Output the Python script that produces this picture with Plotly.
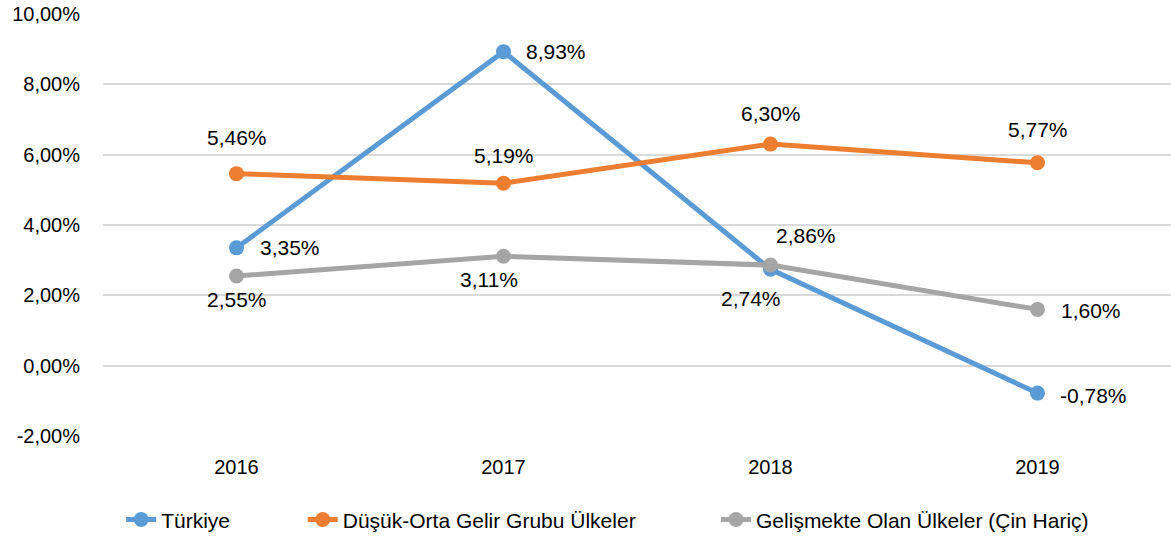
import plotly.graph_objects as go

years = ["2016", "2017", "2018", "2019"]
turkiye = [3.35, 8.93, 2.74, -0.78]
dusuk_orta = [5.46, 5.19, 6.30, 5.77]
gelismekte = [2.55, 3.11, 2.86, 1.60]
names = ["Türkiye", "Düşük-Orta Gelir Grubu Ülkeler", "Gelişmekte Olan Ülkeler (Çin Hariç)"]
colors = ["#5B9BD5", "#ED7D31", "#A5A5A5"]

# label offsets (xanchor, xshift, yshift) per point
offsets = [
    [("left", 21, 0), ("left", 20, 0), ("center", -20, -29), ("left", 20, -2)],
    [("center", 0, 36), ("center", 0, 28), ("center", 0, 31), ("center", 0, 33)],
    [("center", 0, -24), ("center", -15, -23), ("left", 3, 30), ("left", 21, -1)],
]

def fmt(v):
    return f"{v:.2f}".replace(".", ",") + "%"

FONT = "Liberation Sans, Arial, sans-serif"
fig = go.Figure()
series = [turkiye, dusuk_orta, gelismekte]
legend_ids = ["legend", "legend2", "legend3"]
legend_x = [0.017, 0.187, 0.574]
for s, name, col, offs, lid in zip(series, names, colors, offsets, legend_ids):
    fig.add_trace(go.Scatter(
        x=years, y=s, name=name, mode="lines+markers",
        line=dict(color=col, width=5),
        marker=dict(color=col, size=15),
        legend=lid,
    ))
    for i, (yv, (xa, xs, ys)) in enumerate(zip(s, offs)):
        fig.add_annotation(
            x=i, y=yv, xref="x", yref="y", text=fmt(yv), showarrow=False,
            xanchor=xa, yanchor="middle", xshift=xs, yshift=ys,
            font=dict(size=21, color="#000000", family=FONT),
        )

legend_common = dict(orientation="h", xanchor="left", y=-0.15, yanchor="top",
                     font=dict(size=21), bgcolor="rgba(0,0,0,0)")
ticks = [-2, 0, 2, 4, 6, 8, 10]
fig.update_layout(
    width=1171, height=543,
    margin=dict(l=103, r=0, t=14, b=107),
    paper_bgcolor="white", plot_bgcolor="white",
    font=dict(family=FONT, size=20, color="#000000"),
    showlegend=True,
    legend=dict(x=legend_x[0], **legend_common),
    legend2=dict(x=legend_x[1], **legend_common),
    legend3=dict(x=legend_x[2], **legend_common),
    xaxis=dict(type="category", range=[-0.5, 3.5], showgrid=False, showline=False,
               ticks="outside", ticklen=13, tickcolor="rgba(0,0,0,0)",
               tickfont=dict(size=20)),
    yaxis=dict(range=[-2, 10], tickvals=ticks, ticktext=[fmt(t) for t in ticks],
               showgrid=True, gridcolor="#D9D9D9", gridwidth=1.5,
               zeroline=False, showline=False,
               ticks="outside", ticklen=18, tickcolor="rgba(0,0,0,0)",
               tickfont=dict(size=20)),
)
fig.write_html("out.html", config={"displayModeBar": False},
               post_script="document.body.style.margin='0';")
